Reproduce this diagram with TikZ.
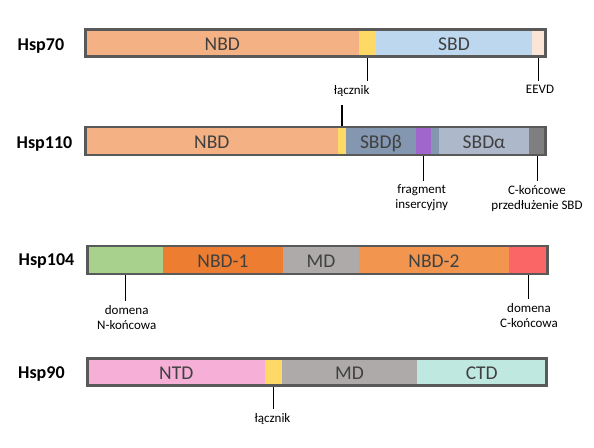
\documentclass[tikz,border=0pt]{standalone}
\usepackage{fontspec}
\setmainfont{Carlito}
\definecolor{bord}{HTML}{595959}
\definecolor{dtext}{HTML}{404040}
\definecolor{nbdo}{HTML}{F4B183}
\definecolor{yel}{HTML}{FFD966}
\definecolor{sbd}{HTML}{BDD7EE}
\definecolor{eevd}{HTML}{FBE5D6}
\definecolor{sbdb}{HTML}{8497B0}
\definecolor{purp}{HTML}{A066CC}
\definecolor{sbda}{HTML}{ADB9CA}
\definecolor{dgray}{HTML}{7F7F7F}
\definecolor{grn}{HTML}{A9D18E}
\definecolor{nbdone}{HTML}{ED7D31}
\definecolor{mdg}{HTML}{AEAAAA}
\definecolor{nbdtwo}{HTML}{F1954F}
\definecolor{redc}{HTML}{FA6666}
\definecolor{ntd}{HTML}{F6AFD6}
\definecolor{ctd}{HTML}{BFE8E1}
\begin{document}
\begin{tikzpicture}[x=1pt,y=-1pt,
  seg/.style={rectangle, inner sep=0pt, outer sep=0pt, anchor=north west,
    text height=15pt, text depth=0pt, font=\fontsize{19.5}{22}\selectfont, text=dtext},
  bar/.style={rectangle, draw=bord, line width=2.5pt, inner sep=0pt, outer sep=0pt, anchor=north west},
  lab/.style={font=\fontsize{13}{15}\selectfont, align=center, inner sep=0pt, outer sep=0pt, anchor=north},
  pname/.style={font=\fontsize{18}{20}\selectfont\bfseries, anchor=base west, inner sep=0pt},
  conn/.style={draw=black, line width=1.1pt, shorten >=4.5pt}]
\useasboundingbox (0,0) rectangle (594,447);

% names
\node[pname] (n70) at (17.5,50) {Hsp70};
\node[pname] (n110) at (16.5,148.3) {Hsp110};
\node[pname] (n104) at (18.5,265.7) {Hsp104};
\node[pname] (n90) at (18,378.3) {Hsp90};

% Hsp70
\node[seg, fill=nbdo, minimum width=273.5pt, minimum height=27pt] (a1) at (85.5,29.5) {NBD};
\node[seg, fill=yel,  minimum width=17pt,    minimum height=27pt] (a2) at (359,29.5) {};
\node[seg, fill=sbd,  minimum width=156pt,   minimum height=27pt] (a3) at (376,29.5) {SBD};
\node[seg, fill=eevd, minimum width=13.5pt,  minimum height=27pt] (a4) at (532,29.5) {};

% Hsp110
\node[seg, fill=nbdo, minimum width=252.5pt, minimum height=28pt] (b1) at (85.5,127) {NBD};
\node[seg, fill=yel,  minimum width=8pt,     minimum height=28pt] (b2) at (338,127) {};
\node[seg, fill=sbdb, minimum width=70pt,    minimum height=28pt] (b3) at (346,127) {SBDβ};
\node[seg, fill=purp, minimum width=15pt,    minimum height=28pt] (b4) at (416,127) {};
\node[seg, fill=sbdb, minimum width=8pt,     minimum height=28pt] (b5) at (431,127) {};
\node[seg, fill=sbda, minimum width=90pt,    minimum height=28pt] (b6) at (439,127) {SBDα};
\node[seg, fill=dgray,minimum width=16.5pt,  minimum height=28pt] (b7) at (529,127) {};

% Hsp104
\node[seg, fill=grn,    minimum width=75.5pt, minimum height=28pt] (c1) at (87.5,246) {};
\node[seg, fill=nbdone, minimum width=120pt,  minimum height=28pt] (c2) at (163,246) {NBD-1};
\node[seg, fill=mdg,    minimum width=76pt,   minimum height=28pt] (c3) at (283,246) {MD};
\node[seg, fill=nbdtwo, minimum width=150pt,  minimum height=28pt] (c4) at (359,246) {NBD-2};
\node[seg, fill=redc,   minimum width=38.5pt, minimum height=28pt] (c5) at (509,246) {};

% Hsp90
\node[seg, fill=ntd, minimum width=177.5pt, minimum height=27pt] (d1) at (87.5,358.7) {NTD};
\node[seg, fill=yel, minimum width=17pt,    minimum height=27pt] (d2) at (265,358.7) {};
\node[seg, fill=mdg, minimum width=135pt,   minimum height=27pt] (d3) at (282,358.7) {MD};
\node[seg, fill=ctd, minimum width=129.5pt, minimum height=27pt] (d4) at (417,358.7) {CTD};

% labels
\node[lab] (l1) at (351.7,85.5) {łącznik};
\node[lab] (l2) at (540,85) {EEVD};
\node[lab] (l3) at (421.7,185) {fragment\\insercyjny};
\node[lab] (l4) at (537,185.5) {C-końcowe\\przedłużenie SBD};
\node[lab] (l5) at (126.7,305) {domena\\N-końcowa};
\node[lab] (l6) at (529,303.3) {domena\\C-końcowa};
\node[lab] (l7) at (272.5,413.3) {łącznik};

% connectors
\draw[conn] (a2.south) -- (a2.south |- l1.north);
\draw[conn] (a4.south) -- (a4.south |- l2.north);
\draw[conn, shorten >=8pt] (b2.north) -- (b2.north |- l1.south);
\draw[conn] (b4.south) -- (b4.south |- l3.north);
\draw[conn] (b7.south) -- (b7.south |- l4.north);
\draw[conn] (c1.south) -- (c1.south |- l5.north);
\draw[conn] (c5.south) -- (c5.south |- l6.north);
\draw[conn] (d2.south) -- (d2.south |- l7.north);

% bar outlines
\node[bar, minimum width=460pt, minimum height=27pt] (bar70) at (85.5,29.5) {};
\node[bar, minimum width=460pt, minimum height=28pt] (bar110) at (85.5,127) {};
\node[bar, minimum width=460pt, minimum height=28pt] (bar104) at (87.5,246) {};
\node[bar, minimum width=459pt, minimum height=27pt] (bar90) at (87.5,358.7) {};
\end{tikzpicture}
\end{document}
